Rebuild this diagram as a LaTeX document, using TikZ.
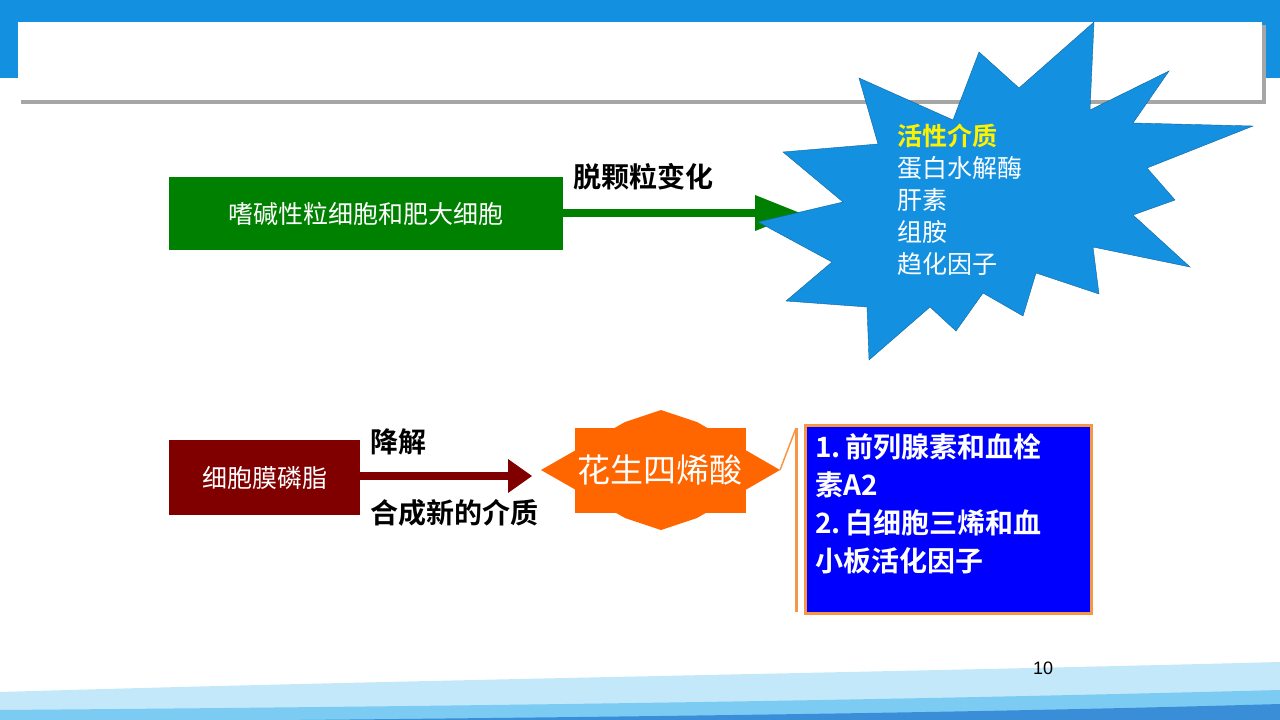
\documentclass[tikz,border=0pt]{standalone}
\usepackage{fontspec}
\newfontfamily\cjk{Noto Sans CJK SC}
\newfontfamily\cjkb{Noto Sans CJK SC Bold}
\setmainfont{Liberation Sans}
\definecolor{band}{HTML}{1490E0}
\definecolor{gr}{HTML}{008000}
\definecolor{dr}{HTML}{800000}
\definecolor{org}{HTML}{FF6600}
\definecolor{bb}{HTML}{0000FF}
\definecolor{ob}{HTML}{F79646}
\definecolor{star}{HTML}{1490E0}
\definecolor{w1}{HTML}{C2E8FA}
\definecolor{w2}{HTML}{7CCBF3}
\definecolor{w3}{HTML}{3A8ED8}
\tikzset{fs/.style={font=\fontsize{#1}{30}\selectfont\cjk},
  lbl/.style={anchor=west,inner sep=0pt,font=\fontsize{28}{32}\selectfont\cjkb},
  wtxt/.style={text=white,inner sep=0pt}}
\begin{document}
\begin{tikzpicture}[x=1pt,y=-1pt]
\useasboundingbox (0,0) rectangle (1280,720);
\fill[white] (0,0) rectangle (1280,720);
% header
\fill[band] (0,0) rectangle (1280,78);
\fill[black!35] (21,25) rectangle (1266,104);
\fill[white] (18,22) rectangle (1262,100);
% bottom waves
\fill[w1] (0,720) -- (0,692) .. controls (400,680) and (900,672) .. (1280,662) -- (1280,720) -- cycle;
\fill[w2] (0,720) -- (0,710) .. controls (500,706) and (900,700) .. (1280,690) -- (1280,720) -- cycle;
\fill[w3] (300,720) .. controls (700,716) and (1000,712) .. (1280,704) -- (1280,720) -- cycle;
% top row
\node[fill=gr,minimum width=394pt,minimum height=73pt,inner sep=0pt,wtxt,fs=25] (baso) at (366,213.5) {嗜碱性粒细胞和肥大细胞};
\fill[gr] (baso.east |- 0,209) rectangle (756,217);
\fill[gr] (755,195) -- (800,213) -- (755,231) -- cycle;
\node[lbl] (tuo) at (573,177) {脱颗粒变化};
% starburst
\fill[star,draw=star!70!black,line width=0.4pt] (1094,22) -- (1090,110) -- (1169,71) -- (1133,123) -- (1253,126) -- (1147,168) -- (1175,200) -- (1133,215) -- (1190,267) -- (1093,247) -- (1099,294) -- (1036,273) -- (1023,316) -- (983,293) -- (956,331) -- (930,307) -- (869,360) -- (867,307) -- (786,301) -- (832,262) -- (758,222) -- (843,202) -- (783,152) -- (878,144) -- (859,78) -- (953,120) -- (979,52) -- (1019,88) -- cycle;
\node[anchor=north west,inner sep=0pt,align=left,text=white,font=\fontsize{25}{32}\selectfont\cjk] (act) at (897,124)
 {{\cjkb\color{yellow}活性介质}\\蛋白水解酶\\肝素\\组胺\\趋化因子};
% bottom row
\node[fill=dr,minimum width=191pt,minimum height=75pt,inner sep=0pt,wtxt,fs=25] (mem) at (264.5,477.5) {细胞膜磷脂};
\fill[dr] (mem.east |- 0,472) rectangle (510,480);
\fill[dr] (508,459) -- (532,476) -- (508,493) -- cycle;
\node[lbl] (jj) at (370,442) {降解};
\node[lbl] (hc) at (370,513) {合成新的介质};
% arachidonic acid
\fill[org] (541,470) -- (625,422) -- (661,410) -- (697,422) -- (780,470) -- (697,518) -- (661,530) -- (625,518) -- cycle;
\fill[org] (575,428) rectangle (746,513);
\node[wtxt,font=\fontsize{33}{38}\selectfont\cjk] (aa) at (660,470) {花生四烯酸};
\coordinate (aar) at (780,470);
% callout
\node[draw=ob,line width=3pt,fill=bb,minimum width=286pt,minimum height=188pt,inner sep=0pt] (box) at (948,519.5) {};
\coordinate (bt) at (796,428);
\coordinate (bb2) at (796,612);
\draw[ob,line width=3pt] (bt) -- (bb2);
\draw[ob,line width=1.5pt] (aar) -- (bt);
\node[anchor=north west,inner sep=0pt,align=left,text=white,font=\fontsize{28}{38}\selectfont\cjkb] (bt1) at (815,433)
 {1.\,前列腺素和血栓\\素A2\\2.\,白细胞三烯和血\\小板活化因子};
\node[font=\fontsize{18}{20}\selectfont] (pg) at (1043,668) {10};
\end{tikzpicture}
\end{document}
